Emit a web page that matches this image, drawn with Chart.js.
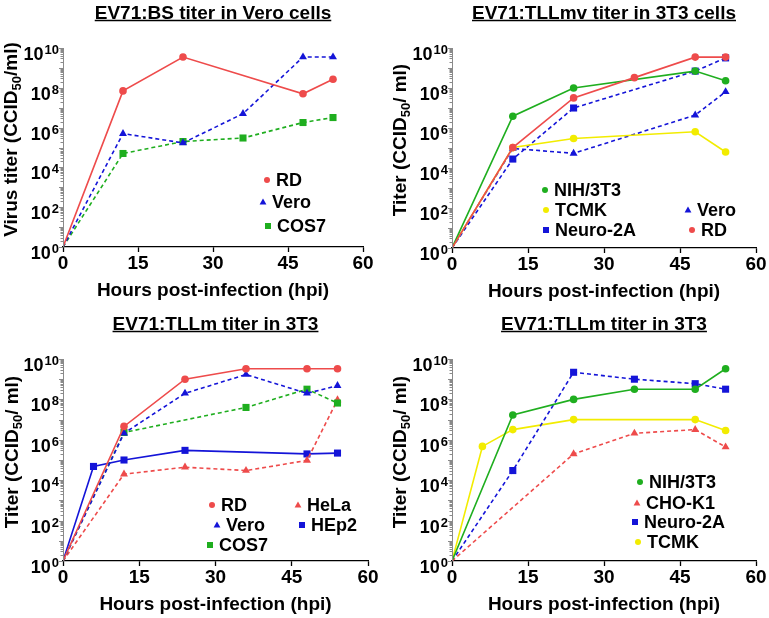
<!DOCTYPE html>
<html><head><meta charset="utf-8">
<script src="https://cdn.jsdelivr.net/npm/chart.js@4/dist/chart.umd.min.js"></script>
<style>
html,body{margin:0;padding:0;background:#fff;width:769px;height:618px;overflow:hidden}
canvas{position:absolute}
</style></head><body>
<canvas id="c1" width="384" height="305" style="left:0;top:0"></canvas>
<canvas id="c2" width="384" height="305" style="left:385px;top:0"></canvas>
<canvas id="c3" width="384" height="313" style="left:0;top:305px"></canvas>
<canvas id="c4" width="384" height="313" style="left:385px;top:305px"></canvas>
<script>
// ---------- data ----------
const xTickValues = [0, 15, 30, 45, 60];
const yTickExponents = [0, 2, 4, 6, 8, 10];
const xAxisTitle = 'Hours post-infection (hpi)';

// Panel 1: EV71:BS titer in Vero cells
const p1Title = 'EV71:BS titer in Vero cells';
const p1RDHours = [0, 12, 24, 48, 54];
const p1RDTiter = [1, 7e7, 3.5e9, 5e7, 2.7e8];
const p1VeroHours = [0, 12, 24, 36, 48, 54];
const p1VeroTiter = [1, 5e5, 1.7e5, 5e6, 3.5e9, 3.5e9];
const p1COS7Hours = [0, 12, 24, 36, 48, 54];
const p1COS7Titer = [1, 5e4, 2e5, 3e5, 1.8e6, 3.2e6];

// Panel 2: EV71:TLLmv titer in 3T3 cells
const p2Title = 'EV71:TLLmv titer in 3T3 cells';
const p2NIHHours = [0, 12, 24, 48, 54];
const p2NIHTiter = [1, 3.9e6, 1e8, 7e8, 2.3e8];
const p2TCMKHours = [0, 12, 24, 48, 54];
const p2TCMKTiter = [1, 1.05e5, 3e5, 6.5e5, 6.3e4];
const p2NeuroHours = [0, 12, 24, 48, 54];
const p2NeuroTiter = [1, 2.8e4, 1e7, 7e8, 3.2e9];
const p2VeroHours = [0, 12, 24, 48, 54];
const p2VeroTiter = [1, 9.5e4, 5.4e4, 4.4e6, 6.5e7];
const p2RDHours = [0, 12, 24, 36, 48, 54];
const p2RDTiter = [1, 1.05e5, 3.2e7, 3.3e8, 3.5e9, 3.5e9];

// Panel 3: EV71:TLLm titer in 3T3 (left)
const p3Title = 'EV71:TLLm titer in 3T3';
const p3RDHours = [0, 12, 24, 36, 48, 54];
const p3RDTiter = [1, 4.6e6, 1e9, 3.3e9, 3.3e9, 3.3e9];
const p3VeroHours = [0, 12, 24, 36, 48, 54];
const p3VeroTiter = [1, 2.1e6, 2e8, 1.7e9, 2e8, 4.8e8];
const p3COS7Hours = [0, 12, 36, 48, 54];
const p3COS7Titer = [1, 2.3e6, 4e7, 3.2e8, 6.6e7];
const p3HeLaHours = [0, 12, 24, 36, 48, 54];
const p3HeLaTiter = [1, 2e4, 4.4e4, 3e4, 9.5e4, 9.5e7];
const p3HEp2Hours = [0, 6, 12, 24, 48, 54];
const p3HEp2Titer = [1, 4.8e4, 1e5, 3e5, 2e5, 2.2e5];

// Panel 4: EV71:TLLm titer in 3T3 (right)
const p4Title = 'EV71:TLLm titer in 3T3';
const p4NIHHours = [0, 12, 24, 36, 48, 54];
const p4NIHTiter = [1, 1.7e7, 1e8, 3.2e8, 3.2e8, 3.3e9];
const p4CHOHours = [0, 24, 36, 48, 54];
const p4CHOTiter = [1, 2e5, 2.1e6, 3.2e6, 4.4e5];
const p4NeuroHours = [0, 12, 24, 36, 48, 54];
const p4NeuroTiter = [1, 3e4, 2.2e9, 1e9, 6e8, 3.2e8];
const p4TCMKHours = [0, 6, 12, 24, 48, 54];
const p4TCMKTiter = [1, 4.7e5, 3.2e6, 1e7, 1e7, 2.9e6];

// ---------- styles ----------
const RED = '#ee4b4b', BLUE = '#1414d8', GREEN = '#1fae1f', YELLOW = '#f2ec00';
const FONT = "'Liberation Sans', Arial, sans-serif";

function series(label, hours, titer, color, style, dashed) {
  const r = style === 'rect' ? 5 : (style === 'triangle' ? 4.6 : 3.8);
  return {
    label: label,
    data: hours.map((h, i) => ({x: h, y: titer[i]})),
    borderColor: color, backgroundColor: color,
    pointBackgroundColor: color, pointBorderColor: color,
    borderWidth: 1.6, borderDash: dashed ? [4, 3] : [],
    pointStyle: style, pointBorderWidth: 0,
    pointRadius: (ctx) => (ctx.raw && ctx.raw.x === 0 ? 0 : r),
    tension: 0, fill: false
  };
}

function drawMarker(ctx, style, color, x, y) {
  ctx.save();
  ctx.fillStyle = color;
  ctx.beginPath();
  if (style === 'circle') { ctx.arc(x, y, 3, 0, Math.PI * 2); }
  else if (style === 'rect') { ctx.rect(x - 3, y - 3, 6, 6); }
  else { ctx.moveTo(x, y - 3.6); ctx.lineTo(x + 3.4, y + 2.4); ctx.lineTo(x - 3.4, y + 2.4); ctx.closePath(); }
  ctx.fill();
  ctx.restore();
}

const deco = {
  id: 'deco',
  afterDraw(chart, args, opts) {
    const ctx = chart.ctx;
    const a = chart.chartArea;
    const xs = chart.scales.x, ys = chart.scales.y;
    ctx.save();
    ctx.fillStyle = '#000';
    // title with underline
    ctx.font = 'bold 19px ' + FONT;
    ctx.textAlign = 'center'; ctx.textBaseline = 'alphabetic';
    const cx = (a.left + a.right) / 2;
    const tb = a.top - 29.5;
    ctx.fillText(opts.title, cx, tb);
    const tw = ctx.measureText(opts.title).width;
    ctx.strokeStyle = '#000'; ctx.lineWidth = 1.4;
    ctx.beginPath(); ctx.moveTo(cx - tw / 2, tb + 2); ctx.lineTo(cx + tw / 2, tb + 2); ctx.stroke();

    // y axis line and ticks
    ctx.strokeStyle = '#8a8a8a'; ctx.lineWidth = 1;
    ctx.beginPath(); ctx.moveTo(a.left + 0.5, a.top); ctx.lineTo(a.left + 0.5, a.bottom); ctx.stroke();
    for (let d = 0; d < 10; d++) {
      for (let m = 1; m <= 9; m++) {
        const py = Math.round(ys.getPixelForValue(m * Math.pow(10, d))) + 0.5;
        const len = m === 1 ? 4 : 2.5;
        ctx.beginPath(); ctx.moveTo(a.left, py); ctx.lineTo(a.left - len, py); ctx.stroke();
      }
    }
    { const py = Math.round(ys.getPixelForValue(1e10)) + 0.5;
      ctx.beginPath(); ctx.moveTo(a.left, py); ctx.lineTo(a.left - 4, py); ctx.stroke(); }

    // y tick labels 10^n
    ctx.fillStyle = '#000';
    ctx.textAlign = 'right'; ctx.textBaseline = 'alphabetic';
    yTickExponents.forEach(e => {
      const py = ys.getPixelForValue(Math.pow(10, e));
      const rx = a.left - 4;
      ctx.font = 'bold 13px ' + FONT;
      const ew = ctx.measureText(String(e)).width;
      ctx.fillText(String(e), rx, py + 6);
      ctx.font = 'bold 18px ' + FONT;
      ctx.fillText('10', rx - ew - 1, py + 12);
    });

    // x tick labels
    ctx.font = 'bold 19px ' + FONT;
    ctx.textAlign = 'center';
    xTickValues.forEach(v => {
      ctx.fillText(String(v), xs.getPixelForValue(v), a.bottom + 21.5);
    });
    // x axis title
    ctx.fillText(xAxisTitle, cx, a.bottom + 49);

    // y axis title with subscript
    ctx.save();
    ctx.translate(opts.yTitleX, (a.top + a.bottom) / 2 - 8);
    ctx.rotate(-Math.PI / 2);
    const parts = [
      {t: opts.yTitleA, f: 19, dy: 0},
      {t: '50', f: 13, dy: 4},
      {t: opts.yTitleB, f: 19, dy: 0}
    ];
    let total = 0;
    parts.forEach(p => { ctx.font = 'bold ' + p.f + 'px ' + FONT; p.w = ctx.measureText(p.t).width; total += p.w; });
    let px = -total / 2;
    ctx.textAlign = 'left';
    parts.forEach(p => { ctx.font = 'bold ' + p.f + 'px ' + FONT; ctx.fillText(p.t, px, p.dy); px += p.w; });
    ctx.restore();

    // legend
    ctx.font = 'bold 18px ' + FONT;
    ctx.textAlign = 'left'; ctx.textBaseline = 'middle';
    opts.legend.forEach(item => {
      const ds = chart.data.datasets[item.ds];
      drawMarker(ctx, ds.pointStyle, ds.borderColor, item.x, item.y);
      ctx.fillStyle = '#000';
      ctx.fillText(ds.label, item.x + 9, item.y + 1);
    });
    ctx.restore();
  }
};

function makeChart(id, datasets, pad, decoOpts) {
  return new Chart(document.getElementById(id), {
    type: 'line',
    data: {datasets: datasets},
    plugins: [deco],
    options: {
      responsive: false, animation: false, devicePixelRatio: 1,
      layout: {padding: pad},
      plugins: {legend: {display: false}, tooltip: {enabled: false}, title: {display: false}, deco: decoOpts},
      scales: {
        x: {
          type: 'linear', min: 0, max: 60,
          ticks: {display: false, stepSize: 15},
          afterBuildTicks: (s) => { s.ticks = xTickValues.map(v => ({value: v})); },
          afterFit: (s) => { s.height = 0; },
          grid: {drawOnChartArea: false, drawTicks: true, tickLength: 5, tickColor: '#000', tickWidth: 1.3},
          border: {display: true, color: '#000', width: 1.3}
        },
        y: {
          type: 'logarithmic', min: 1, max: 1e10,
          ticks: {display: false},
          afterFit: (s) => { s.width = 0; },
          grid: {display: false},
          border: {display: false}
        }
      }
    }
  });
}

makeChart('c1', [
  series('RD', p1RDHours, p1RDTiter, RED, 'circle', false),
  series('Vero', p1VeroHours, p1VeroTiter, BLUE, 'triangle', true),
  series('COS7', p1COS7Hours, p1COS7Titer, GREEN, 'rect', true)
], {left: 63, right: 21, top: 48, bottom: 58},
{title: p1Title, yTitleX: 17, yTitleA: 'Virus titer (CCID', yTitleB: '/ml)',
 legend: [{ds: 0, x: 267, y: 180}, {ds: 1, x: 263, y: 202}, {ds: 2, x: 268, y: 226}]});

makeChart('c2', [
  series('RD', p2RDHours, p2RDTiter, RED, 'circle', false),
  series('NIH/3T3', p2NIHHours, p2NIHTiter, GREEN, 'circle', false),
  series('TCMK', p2TCMKHours, p2TCMKTiter, YELLOW, 'circle', false),
  series('Neuro-2A', p2NeuroHours, p2NeuroTiter, BLUE, 'rect', true),
  series('Vero', p2VeroHours, p2VeroTiter, BLUE, 'triangle', true)
], {left: 67, right: 13, top: 48, bottom: 57},
{title: p2Title, yTitleX: 20.5, yTitleA: 'Titer (CCID', yTitleB: '/ ml)',
 legend: [{ds: 1, x: 160, y: 190}, {ds: 2, x: 161, y: 210}, {ds: 3, x: 161, y: 230},
          {ds: 4, x: 303, y: 210}, {ds: 0, x: 307, y: 230}]});

makeChart('c3', [
  series('RD', p3RDHours, p3RDTiter, RED, 'circle', false),
  series('Vero', p3VeroHours, p3VeroTiter, BLUE, 'triangle', true),
  series('COS7', p3COS7Hours, p3COS7Titer, GREEN, 'rect', true),
  series('HeLa', p3HeLaHours, p3HeLaTiter, RED, 'triangle', true),
  series('HEp2', p3HEp2Hours, p3HEp2Titer, BLUE, 'rect', false)
], {left: 63, right: 16, top: 54, bottom: 57},
{title: p3Title, yTitleX: 18, yTitleA: 'Titer (CCID', yTitleB: '/ ml)',
 legend: [{ds: 0, x: 212, y: 200}, {ds: 1, x: 217, y: 220}, {ds: 2, x: 210, y: 240},
          {ds: 3, x: 298, y: 200}, {ds: 4, x: 302, y: 220}]});

makeChart('c4', [
  series('NIH/3T3', p4NIHHours, p4NIHTiter, GREEN, 'circle', false),
  series('CHO-K1', p4CHOHours, p4CHOTiter, RED, 'triangle', true),
  series('Neuro-2A', p4NeuroHours, p4NeuroTiter, BLUE, 'rect', true),
  series('TCMK', p4TCMKHours, p4TCMKTiter, YELLOW, 'circle', false)
], {left: 67, right: 13, top: 54, bottom: 57},
{title: p4Title, yTitleX: 20.5, yTitleA: 'Titer (CCID', yTitleB: '/ ml)',
 legend: [{ds: 0, x: 255, y: 177}, {ds: 1, x: 252, y: 198}, {ds: 2, x: 250, y: 217}, {ds: 3, x: 253, y: 237}]});
</script>
</body></html>
